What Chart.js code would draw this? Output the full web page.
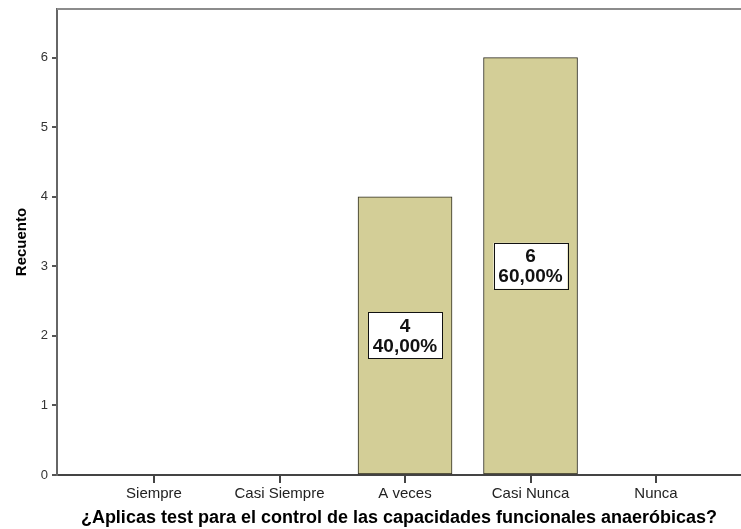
<!DOCTYPE html>
<html>
<head>
<meta charset="utf-8">
<script src="https://cdn.jsdelivr.net/npm/chart.js@4/dist/chart.umd.min.js"></script>
<style>
  html, body { margin: 0; padding: 0; background: #fff; }
  #wrap { width: 741px; height: 529px; }
</style>
</head>
<body>
<div id="wrap"><canvas id="barChart" width="741" height="529"></canvas></div>
<script>
// Respuestas por categoria
const categorias = ['Siempre', 'Casi Siempre', 'A veces', 'Casi Nunca', 'Nunca'];
const recuento   = [0, 0, 4, 6, 0];
const yTicks     = [0, 1, 2, 3, 4, 5, 6];

const total = recuento.reduce((a, b) => a + b, 0);
const FONT = "'Liberation Sans', Arial, sans-serif";

// caja blanca con recuento y porcentaje en medio de cada barra
const etiquetas = {
    id: 'etiquetas',
    afterDatasetsDraw(chart) {
        const ctx = chart.ctx;
        const meta = chart.getDatasetMeta(0);
        meta.data.forEach((bar, i) => {
            const v = recuento[i];
            if (!v) return;
            const cx = bar.x;
            const cy = (bar.y + bar.base) / 2;
            const pct = (v / total * 100).toFixed(2).replace('.', ',') + '%';
            const w = 74, h = 46;
            ctx.save();
            ctx.fillStyle = '#fff';
            ctx.fillRect(cx - w / 2, cy - h / 2, w, h);
            ctx.strokeStyle = '#111';
            ctx.lineWidth = 1;
            ctx.strokeRect(Math.round(cx - w / 2) + 0.5, Math.round(cy - h / 2) + 0.5, w, h);
            ctx.fillStyle = '#111';
            ctx.font = 'bold 19px ' + FONT;
            ctx.textAlign = 'center';
            ctx.textBaseline = 'middle';
            ctx.fillText(String(v), cx, cy - 9);
            ctx.fillText(pct, cx, cy + 11);
            ctx.restore();
        });
    }
};

// linea superior del marco
const marco = {
    id: 'marco',
    beforeDatasetsDraw(chart) {
        const { ctx, chartArea } = chart;
        ctx.save();
        ctx.strokeStyle = '#8c8c8c';
        ctx.lineWidth = 2;
        ctx.beginPath();
        ctx.moveTo(chartArea.left, chartArea.top);
        ctx.lineTo(chartArea.right, chartArea.top);
        ctx.stroke();
        ctx.restore();
    }
};

new Chart(document.getElementById('barChart'), {
    type: 'bar',
    data: {
        datasets: [{
            label: 'Recuento',
            data: recuento.map((v, i) => ({ x: i + 1, y: v })),
            backgroundColor: '#d3ce97',
            borderColor: '#2e2c20',
            borderWidth: 1,
            borderSkipped: false,
            barThickness: 94
        }]
    },
    options: {
        responsive: false,
        animation: false,
        layout: { padding: { top: 9, right: 0, left: 0, bottom: 0 } },
        plugins: {
            legend: { display: false },
            tooltip: { enabled: false }
        },
        scales: {
            x: {
                type: 'linear',
                offset: false,
                min: 0.227,
                max: 5.677,
                afterBuildTicks: s => { s.ticks = categorias.map((c, i) => ({ value: i + 1 })); },
                afterFit: s => { s.height = 54; },
                grid: { offset: false, drawOnChartArea: false, drawTicks: true, tickLength: 8, color: '#444', lineWidth: 2 },
                border: { color: '#444', width: 2 },
                ticks: {
                    color: '#222',
                    font: { family: FONT, size: 15 },
                    padding: 2,
                    maxRotation: 0,
                    autoSkip: false,
                    callback: v => categorias[v - 1]
                },
                title: {
                    display: true,
                    text: '¿Aplicas test para el control de las capacidades funcionales anaeróbicas?',
                    color: '#000',
                    font: { family: FONT, size: 18, weight: 'bold' },
                    padding: { top: 0, bottom: 0 }
                }
            },
            y: {
                min: 0,
                max: 6.7,
                afterBuildTicks: s => { s.ticks = yTicks.map(v => ({ value: v })); },
                afterFit: s => { s.width = 57; s.paddingTop = 0; },
                grid: { drawOnChartArea: false, drawTicks: true, tickLength: 5, color: '#555', lineWidth: 2 },
                border: { color: '#666', width: 2 },
                ticks: {
                    color: '#333',
                    font: { family: FONT, size: 13 },
                    padding: 4
                },
                title: {
                    display: true,
                    text: 'Recuento',
                    color: '#000',
                    font: { family: FONT, size: 15, weight: 'bold' },
                    padding: { top: 13, bottom: 0 }
                }
            }
        }
    },
    plugins: [marco, etiquetas]
});
</script>
</body>
</html>
